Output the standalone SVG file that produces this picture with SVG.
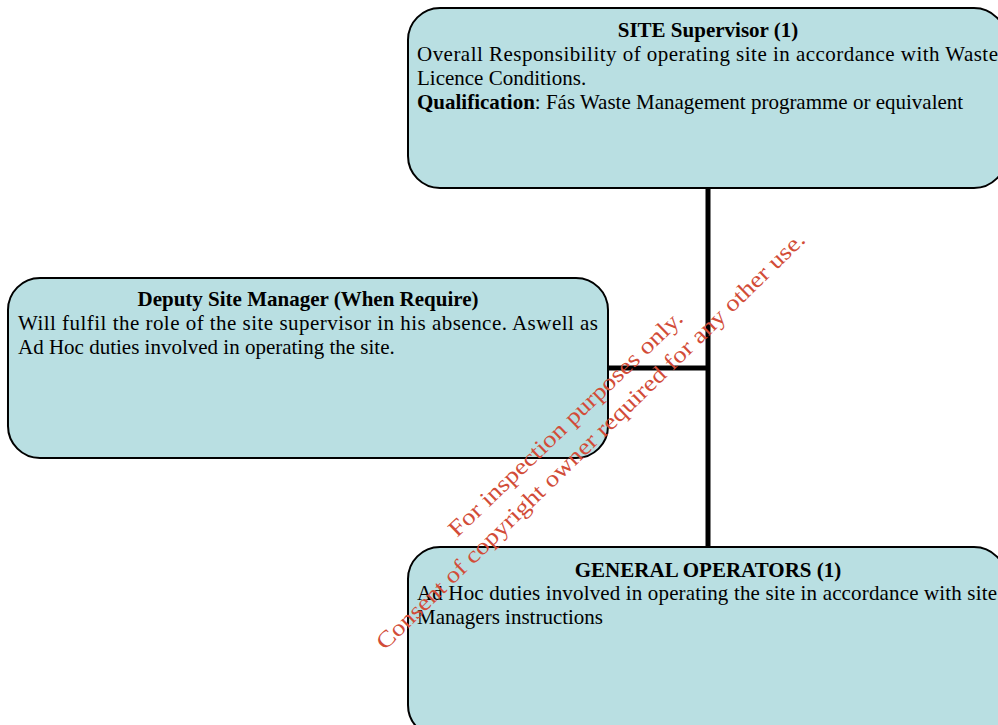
<svg xmlns="http://www.w3.org/2000/svg" width="998" height="725" viewBox="0 0 998 725">
  <style>
    .box { fill: #b9dfe2; stroke: #000; stroke-width: 2; }
    .link { stroke: #000; stroke-width: 5; fill: none; }
    text { font-family: "Liberation Serif", "Times New Roman", serif; font-size: 21px; fill: #000; }
    .title { font-weight: bold; text-anchor: middle; }
    .wm { font-size: 23px; fill: #d24c38; }
  </style>
  <rect width="998" height="725" fill="#fff"/>

  <g id="connectors">
    <line class="link" x1="708" y1="188" x2="708" y2="548"/>
    <line class="link" x1="607" y1="368" x2="710" y2="368"/>
  </g>

  <g id="site-supervisor">
    <rect class="box" x="408" y="8" width="598" height="180" rx="32" ry="32"/>
    <text class="title" x="708" y="37">SITE Supervisor (1)</text>
    <text x="417" y="61" textLength="581" lengthAdjust="spacing">Overall Responsibility of operating site in accordance with Waste</text>
    <text x="417" y="85">Licence Conditions.</text>
    <text x="417" y="109"><tspan font-weight="bold">Qualification</tspan>: Fás Waste Management programme or equivalent</text>
  </g>

  <g id="deputy-manager">
    <rect class="box" x="8" y="278" width="600" height="180" rx="32" ry="32"/>
    <text class="title" x="308" y="306">Deputy Site Manager (When Require)</text>
    <text x="18" y="330" textLength="580" lengthAdjust="spacing">Will fulfil the role of the site supervisor in his absence. Aswell as</text>
    <text x="18" y="354">Ad Hoc duties involved in operating the site.</text>
  </g>

  <g id="general-operators">
    <rect class="box" x="408" y="547" width="598" height="190" rx="32" ry="32"/>
    <text class="title" x="708" y="577">GENERAL OPERATORS (1)</text>
    <text x="417" y="600" textLength="580" lengthAdjust="spacing">Ad Hoc duties involved in operating the site in accordance with site</text>
    <text x="417" y="624">Managers instructions</text>
  </g>

  <g id="watermark">
    <text class="wm" transform="translate(457 538) rotate(-43.8)" textLength="315" lengthAdjust="spacingAndGlyphs">For inspection purposes only.</text>
    <text class="wm" transform="translate(385 651) rotate(-44.2)" textLength="588" lengthAdjust="spacingAndGlyphs">Consent of copyright owner required for any other use.</text>
  </g>
</svg>
